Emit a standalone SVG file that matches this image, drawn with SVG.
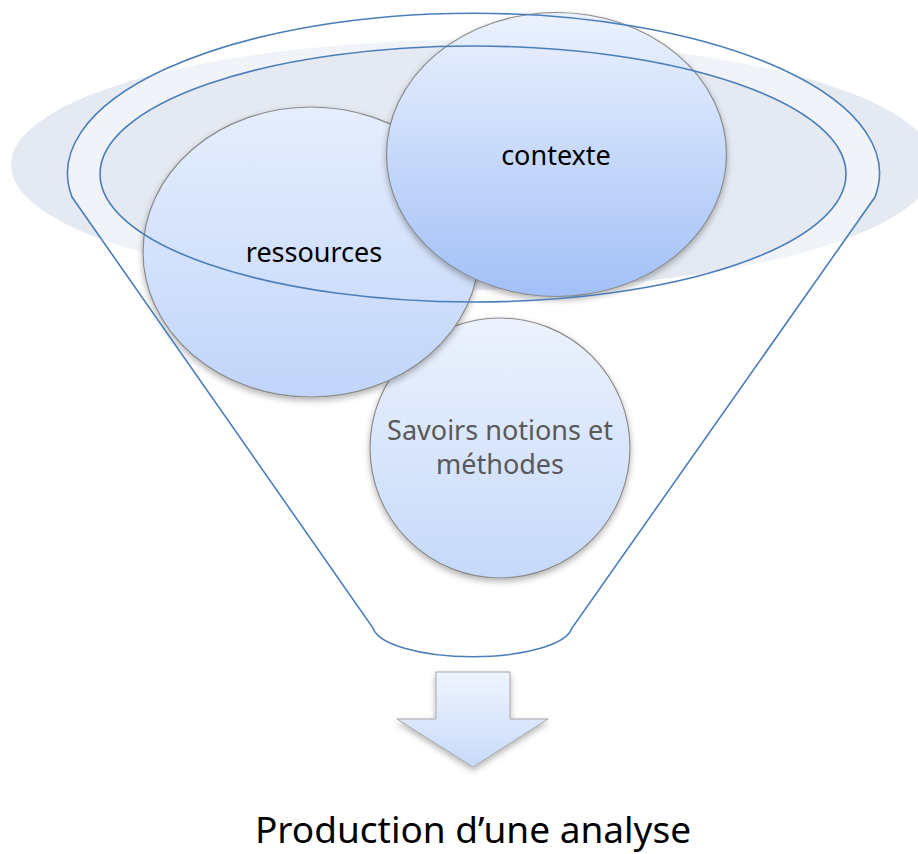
<svg xmlns="http://www.w3.org/2000/svg" width="918" height="854" viewBox="0 0 918 854">
<style>
.lbl{font-family:"Noto Sans","Open Sans","Liberation Sans",sans-serif;text-anchor:middle}
.circ{stroke:#8a8a8a;stroke-width:1.2}
.funnel{fill:none;stroke:#4a7ebb;stroke-width:1.6}
</style>
<defs>
<linearGradient id="gRes" x1="0" y1="0" x2="0" y2="1"><stop offset="0" stop-color="#e6eefd"/><stop offset="1" stop-color="#c1d5fa"/></linearGradient>
<linearGradient id="gCtx" x1="0" y1="0" x2="0" y2="1"><stop offset="0" stop-color="#ecf2fe"/><stop offset="1" stop-color="#a2c0f7"/></linearGradient>
<linearGradient id="gSav" x1="0" y1="0" x2="0" y2="1"><stop offset="0" stop-color="#ecf2fd"/><stop offset="1" stop-color="#c6d9fa"/></linearGradient>
<linearGradient id="gArr" x1="0" y1="0" x2="0" y2="1"><stop offset="0" stop-color="#eff4fe"/><stop offset="1" stop-color="#c8dafa"/></linearGradient>
<filter id="sh" x="-10%" y="-10%" width="120%" height="125%"><feDropShadow dx="0" dy="3" stdDeviation="3" flood-color="#000" flood-opacity="0.3"/></filter>
</defs>
<g id="background">
<ellipse cx="473" cy="165" rx="462" ry="125" fill="#e4e9f2"/>
<path d="M72,197 A406,160 0 1 1 875,197 L572,628 A100,32 0 0 1 373,628 Z M100,174 A373,128 0 1 0 846,174 A373,128 0 1 0 100,174 Z" fill="#ffffff" fill-opacity="0.45" fill-rule="evenodd"/>
</g>
<g id="node-savoirs">
<circle class="circ" cx="500" cy="448" r="130" fill="url(#gSav)" filter="url(#sh)"/>
<text class="lbl" x="500" y="440" font-size="27" fill="#595959">Savoirs notions et</text>
<text class="lbl" x="500" y="474" font-size="27" fill="#595959">méthodes</text>
</g>
<g id="node-ressources">
<ellipse class="circ" cx="311" cy="252" rx="168" ry="145" fill="url(#gRes)" filter="url(#sh)"/>
<text class="lbl" x="314" y="262" font-size="27" fill="#000">ressources</text>
</g>
<g id="node-contexte">
<ellipse class="circ" cx="556.5" cy="154.5" rx="170" ry="142" fill="url(#gCtx)" filter="url(#sh)"/>
<text class="lbl" x="556" y="165" font-size="27" fill="#000">contexte</text>
</g>
<g id="connectors">
<path class="funnel" d="M72,197 A406,160 0 1 1 875,197 L572,628 A100,32 0 0 1 373,628 Z"/>
<ellipse class="funnel" cx="473" cy="174" rx="373" ry="128"/>
</g>
<g id="node-arrow">
<path d="M436,672 L510,672 L510,719 L548,719 L473,767 L397,719 L436,719 Z" fill="url(#gArr)" stroke="#a6a6a6" stroke-width="1" filter="url(#sh)"/>
</g>
<g id="node-production">
<text class="lbl" x="473" y="843" font-size="37" fill="#000">Production d’une analyse</text>
</g>
</svg>
